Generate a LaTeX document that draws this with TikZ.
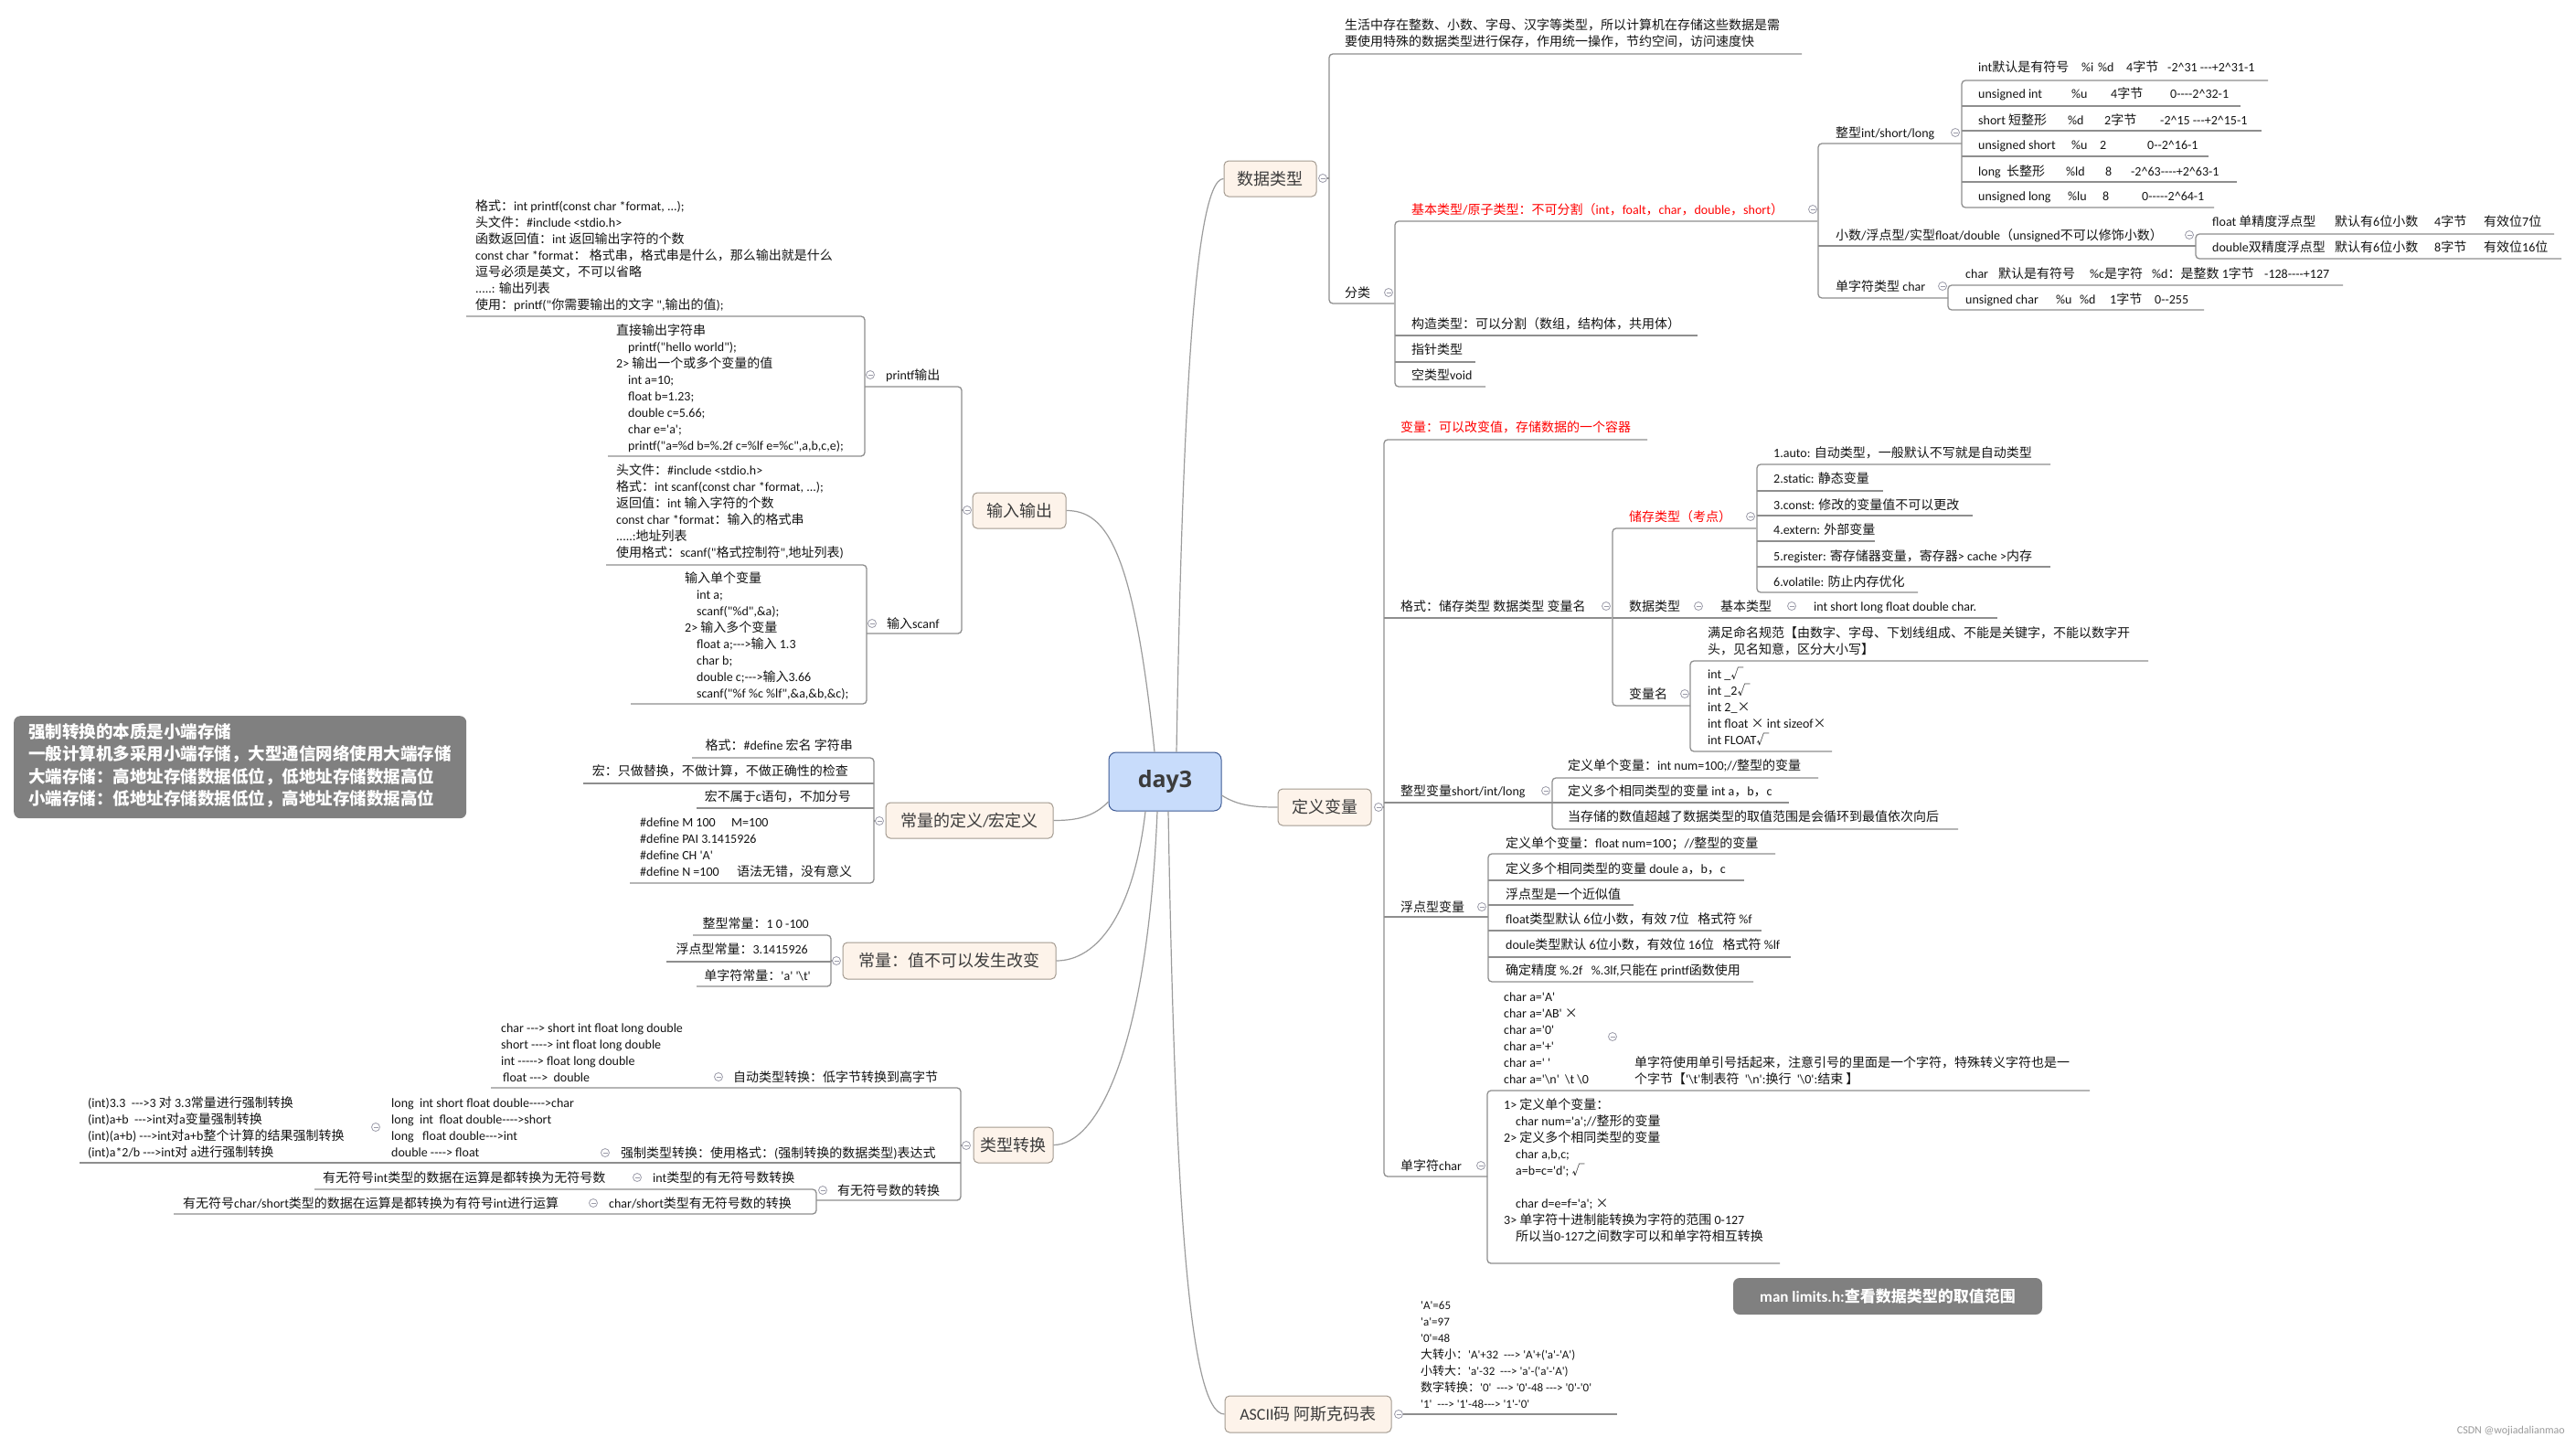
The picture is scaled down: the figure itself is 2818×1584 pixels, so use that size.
\documentclass[tikz,border=0pt]{standalone}
\usepackage{fontspec}
\setmainfont{Carlito}[Ligatures=TeXOff]
\newfontfamily\latf{Carlito}[Ligatures=TeXOff]
\newfontfamily\cjkf{Noto Sans CJK SC}
\newfontfamily\dayf{Open Sans}
\XeTeXinterchartokenstate=1
\newXeTeXintercharclass\cjkcls
\newcount\cjkc
\def\setcjkrange#1#2{\cjkc=#1\relax\loop\XeTeXcharclass\cjkc=\cjkcls\relax\ifnum\cjkc<#2\relax\advance\cjkc by 1\relax\repeat}
\setcjkrange{"4E00}{"9FFF}
\setcjkrange{"3000}{"303F}
\setcjkrange{"FF00}{"FFEF}
\XeTeXcharclass"221A=\cjkcls
\XeTeXcharclass"00D7=\cjkcls
\XeTeXinterchartoks 0 \cjkcls = {\cjkf}
\XeTeXinterchartoks 4095 \cjkcls = {\cjkf}
\XeTeXinterchartoks \cjkcls 0 = {\latf}
\XeTeXinterchartoks \cjkcls 4095 = {\latf}
\definecolor{lncol}{HTML}{8E8E8E}
\definecolor{cncol}{HTML}{9C9C9C}
\definecolor{txcol}{HTML}{141414}
\definecolor{tpbd}{HTML}{A39A90}
\definecolor{tpfill}{HTML}{FDF3EA}
\definecolor{tptx}{HTML}{3C3C3C}
\definecolor{dayfill}{HTML}{C8DCFB}
\definecolor{daybd}{HTML}{3D5A94}
\definecolor{notecol}{HTML}{808080}
\definecolor{redt}{HTML}{FF0000}
\definecolor{cmcol}{HTML}{9A9AA8}
\definecolor{wmcol}{HTML}{9A9A9A}
\newcommand\ml[1]{\begin{tabular}[t]{@{}l@{}}#1\end{tabular}}
\newcommand\cb[2]{\makebox[#1pt][l]{#2}}
\newcommand\brk[5]{\draw[ln,rounded corners=4pt] (#3,#2) -- (#1,#2) -- (#1,#4) -- (#5,#4);}
\newcommand\uln[3]{\draw[ln] (#2,#1) -- (#3,#1);}
\newcommand\cmi[2]{\draw[cl,fill=white] (#1,#2) circle[radius=4.5pt]; \draw[cl] (#1-2.5,#2) -- (#1+2.5,#2);}
\newcommand\ind{\hspace{13pt}}
\tikzset{
 ln/.style={draw=lncol, line width=1.3pt},
 cn/.style={draw=cncol, line width=1.2pt},
 cl/.style={draw=cmcol, line width=0.8pt},
 tx/.style={inner sep=0pt, anchor=base west, font=\fontsize{14}{18}\selectfont, text=txcol},
 txe/.style={tx, anchor=base east},
 rd/.style={tx, text=redt},
 topic/.style={draw=tpbd, fill=tpfill, rounded corners=5pt, line width=1pt, font=\fontsize{18}{22}\selectfont, text=tptx, inner sep=0pt, minimum height=39pt},
 note/.style={fill=notecol, rounded corners=7pt, text=white, inner sep=0pt},
}
\begin{document}
\begin{tikzpicture}[x=1pt,y=-1pt]
\useasboundingbox (0,0) rectangle (2818,1584);
\fill[white] (0,0) rectangle (2818,1584);

% ===== center and topics =====
\node[draw=daybd, fill=dayfill, rounded corners=8pt, line width=1pt, minimum width=123pt, minimum height=64pt, inner sep=0pt, font=\dayf\bfseries\fontsize{25}{28}\selectfont, text=tptx] (day3) at (1274.5,855) {day3};
\node[topic, minimum width=101pt] (sjlx) at (1389.5,195.5) {数据类型};
\node[topic, minimum width=102pt] (srsc) at (1115,558.5) {输入输出};
\node[topic, minimum width=183pt] (cdy) at (1060.5,897.5) {常量的定义/宏定义};
\node[topic, minimum width=233pt, minimum height=40pt] (clz) at (1038.5,1051) {常量：值不可以发生改变};
\node[topic, minimum width=87pt] (lxzh) at (1108.5,1252.5) {类型转换};
\node[topic, minimum width=102pt, minimum height=40pt] (dybl) at (1449,883) {定义变量};
\node[topic, minimum width=182pt, minimum height=40pt] (ascii) at (1431,1547) {ASCII码 阿斯克码表};

\draw[cn] ([xshift=12.5pt]day3.north) .. controls (1293,480) and (1305,195.5) .. (sjlx.west);
\draw[cn] ([xshift=-11.5pt]day3.north) .. controls (1240,600) and (1210,558.5) .. (srsc.east);
\draw[cn] ([yshift=-22pt]day3.west) .. controls (1195,895) and (1175,897.5) .. (cdy.east);
\draw[cn] ([xshift=-21.5pt]day3.south) .. controls (1240,1000) and (1200,1051) .. (clz.east);
\draw[cn] ([xshift=-8.5pt]day3.south) .. controls (1255,1150) and (1200,1252.5) .. (lxzh.east);
\draw[cn] ([xshift=3.5pt]day3.south) .. controls (1285,1300) and (1300,1547) .. (ascii.west);
\draw[cn] ([yshift=-15pt]day3.east) .. controls (1355,882) and (1375,883) .. (dybl.west);

% ===== 数据类型 branch =====
\draw[ln] (1451,195) -- (1454,195);
\brk{1454}{59}{1971}{332}{1525}
\brk{1526}{242}{1988}{423}{1625}
\uln{367}{1526}{1857}
\uln{396}{1526}{1614}
\brk{1989}{157}{2146}{326}{2131}
\uln{269}{1989}{2402}
\brk{2146}{88}{2481}{227}{2422}
\uln{116}{2146}{2451}
\uln{143}{2146}{2474}
\uln{171}{2146}{2416}
\uln{199}{2146}{2447}
\brk{2402}{256}{2794}{283}{2802}
\brk{2131}{312}{2563}{339}{2411}

\node[tx] (d1) at (1471,33) {\ml{生活中存在整数、小数、字母、汉字等类型，所以计算机在存储这些数据是需\\要使用特殊的数据类型进行保存，作用统一操作，节约空间，访问速度快}};
\node[tx] (d2) at (1471,325) {分类};
\node[rd] (d3) at (1544,234) {基本类型/原子类型：不可分割（int，foalt，char，double，short）};
\node[tx] (d4) at (1544,359) {构造类型：可以分割（数组，结构体，共用体）};
\node[tx] (d5) at (1544,387) {指针类型};
\node[tx] (d6) at (1544,415) {空类型void};
\node[tx] (d7) at (2008,150) {整型int/short/long};
\node[tx] (d8) at (2164,79) {\cb{113}{int默认是有符号}\cb{18}{\%i}\cb{31}{\%d}\cb{45}{4字节}-2\textasciicircum 31 ---+2\textasciicircum 31-1};
\node[tx] (d9) at (2164,108) {\cb{102}{unsigned int}\cb{43}{\%u}\cb{65}{4字节}0----2\textasciicircum 32-1};
\node[tx] (d10) at (2164,136) {\cb{98}{short 短整形}\cb{40}{\%d}\cb{61}{2字节}-2\textasciicircum 15 ---+2\textasciicircum 15-1};
\node[tx] (d11) at (2164,164) {\cb{102}{unsigned short}\cb{31}{\%u}\cb{52}{2}0--2\textasciicircum 16-1};
\node[tx] (d12) at (2164,192) {\cb{96}{long\ \ 长整形}\cb{43}{\%ld}\cb{28}{8}-2\textasciicircum 63----+2\textasciicircum 63-1};
\node[tx] (d13) at (2164,219) {\cb{98}{unsigned long}\cb{38}{\%lu}\cb{43}{8}0-----2\textasciicircum 64-1};
\node[tx] (d14) at (2008,262) {小数/浮点型/实型float/double（unsigned不可以修饰小数）};
\node[tx] (d15) at (2420,247) {\cb{134}{float 单精度浮点型}\cb{109}{默认有6位小数}\cb{54}{4字节}有效位7位};
\node[tx] (d16) at (2420,275) {\cb{134}{double双精度浮点型}\cb{109}{默认有6位小数}\cb{54}{8字节}有效位16位};
\node[tx] (d17) at (2008,318) {单字符类型 char};
\node[tx] (d18) at (2150,304) {\cb{36}{char}\cb{100}{默认是有符号}\cb{68}{\%c是字符}\cb{123}{\%d：是整数 1字节}-128----+127};
\node[tx] (d19) at (2150,332) {\cb{99}{unsigned char}\cb{26}{\%u}\cb{33}{\%d}\cb{49}{1字节}0--255};
\cmi{1447}{195}
\cmi{1519}{320}
\cmi{1983}{229}
\cmi{2139}{145}
\cmi{2395}{257}
\cmi{2125}{313}

% ===== 定义变量 branch =====
\draw[ln] (1512.5,883) -- (1514,883);
\brk{1514}{481}{1802}{1287}{1627}
\uln{676}{1514}{1763}
\uln{878}{1514}{1698}
\uln{1003}{1514}{1628}
\brk{1764}{578}{1921}{772}{1849}
\uln{676}{1764}{2185}
\brk{1922}{508}{2243}{648}{2098}
\uln{537}{1922}{2060}
\uln{564}{1922}{2158}
\uln{592}{1922}{2051}
\uln{620}{1922}{2243}
\brk{1849}{723}{2350}{822}{2004}
\brk{1698}{851}{1989}{907}{2142}
\uln{878}{1698}{1957}
\brk{1628}{934}{1942}{1074}{1918}
\uln{963}{1628}{1908}
\uln{990}{1628}{1787}
\uln{1018}{1628}{1927}
\uln{1047}{1628}{1959}
\brk{1627}{1193}{2286}{1382}{1947}

\node[rd] (v1) at (1532,472) {变量：可以改变值，存储数据的一个容器};
\node[tx] (v2) at (1532,668) {格式：储存类型 数据类型 变量名};
\node[rd] (v3) at (1782,570) {储存类型（考点）};
\node[tx] (v4) at (1940,500) {1.auto: 自动类型，一般默认不写就是自动类型};
\node[tx] (v5) at (1940,528) {2.static: 静态变量};
\node[tx] (v6) at (1940,557) {3.const: 修改的变量值不可以更改};
\node[tx] (v7) at (1940,584) {4.extern: 外部变量};
\node[tx] (v8) at (1940,613) {5.register: 寄存储器变量，寄存器> cache >内存};
\node[tx] (v9) at (1940,641) {6.volatile: 防止内存优化};
\node[tx] (v10) at (1782,668) {数据类型};
\node[tx] (v11) at (1882,668) {基本类型};
\node[tx] (v12) at (1984,668) {int short long float double char.};
\node[tx] (v13) at (1782,764) {变量名};
\node[tx] (v14) at (1868,697) {\ml{满足命名规范【由数字、字母、下划线组成、不能是关键字，不能以数字开\\头，见名知意，区分大小写】}};
\node[tx] (v15) at (1868,742) {\ml{int \_√\\int \_2√\\int 2\_×\\int float × int sizeof×\\int FLOAT√}};
\node[tx] (v16) at (1532,870) {整型变量short/int/long};
\node[tx] (v17) at (1715,842) {定义单个变量：int num=100;//整型的变量};
\node[tx] (v18) at (1715,870) {定义多个相同类型的变量 int a，b，c};
\node[tx] (v19) at (1715,898) {当存储的数值超越了数据类型的取值范围是会循环到最值依次向后};
\node[tx] (v20) at (1532,997) {浮点型变量};
\node[tx] (v21) at (1647,927) {定义单个变量：float num=100；//整型的变量};
\node[tx] (v22) at (1647,955) {定义多个相同类型的变量 doule a，b，c};
\node[tx] (v23) at (1647,983) {浮点型是一个近似值};
\node[tx] (v24) at (1647,1010) {float类型默认 6位小数，有效 7位\ \ \ 格式符 \%f};
\node[tx] (v25) at (1647,1038) {doule类型默认 6位小数，有效位 16位\ \ \ 格式符 \%lf};
\node[tx] (v26) at (1647,1066) {确定精度 \%.2f\ \ \ \%.3lf,只能在 printf函数使用};
\node[tx] (v27) at (1532,1280) {单字符char};
\node[tx] (v28) at (1645,1095) {\ml{char a='A'\\char a='AB' ×\\char a='0'\\char a='+'\\char a=' '\\char a='\textbackslash n'\ \ \textbackslash t\ \textbackslash 0}};
\node[tx] (v29) at (1788,1167) {\ml{单字符使用单引号括起来，注意引号的里面是一个字符，特殊转义字符也是一\\个字节【'\textbackslash t'制表符\ \ '\textbackslash n':换行\ \ '\textbackslash 0':结束 】}};
\node[tx] (v30) at (1645,1213) {\ml{1> 定义单个变量：\\\ind char num='a';//整形的变量\\2> 定义多个相同类型的变量\\\ind char a,b,c;\\\ind a=b=c='d'; √\\\mbox{}\\\ind char d=e=f='a'; ×\\3> 单字符十进制能转换为字符的范围 0-127\\\ind 所以当0-127之间数字可以和单字符相互转换}};
\cmi{1508}{883}
\cmi{1757}{663}
\cmi{1915}{565}
\cmi{1858}{663}
\cmi{1960}{663}
\cmi{1843}{759}
\cmi{1691}{865}
\cmi{1621}{992}
\cmi{1620}{1275}
\cmi{1764}{1134}

% ===== ASCII =====
\uln{1547}{1535}{1769}
\node[tx, font=\fontsize{13}{18}\selectfont] (a1) at (1554,1432) {\ml{'A'=65\\'a'=97\\'0'=48\\大转小：'A'+32\ \ ---> 'A'+('a'-'A')\\小转大：'a'-32\ \ ---> 'a'-('a'-'A')\\数字转换：'0'\ \ ---> '0'-48 ---> '0'-'0'\\'1'\ \ ---> '1'-48---> '1'-'0'}};
\cmi{1530}{1547}
\node[note, minimum width=338pt, minimum height=40pt, font=\bfseries\fontsize{17}{20}\selectfont] (mannote) at (2065,1418) {man limits.h:查看数据类型的取值范围};

% ===== 输入输出 branch =====
\draw[ln] (1053.5,558) -- (1052,558);
\brk{1052}{423}{946}{693}{948}
\brk{946}{346}{510}{499}{665}
\brk{948}{618}{663}{770}{690}
\node[tx] (p1) at (969,415) {printf输出};
\node[tx] (p2) at (970,687) {输入scanf};
\node[tx] (p3) at (520,230) {\ml{格式：int printf(const char *format, ...);\\头文件：\#include <stdio.h>\\函数返回值：int 返回输出字符的个数\\const char *format： 格式串，格式串是什么，那么输出就是什么\\逗号必须是英文，不可以省略\\.....: 输出列表\\使用：printf("你需要输出的文字 ",输出的值);}};
\node[tx] (p4) at (674,366) {\ml{直接输出字符串\\\ind printf("hello world");\\2> 输出一个或多个变量的值\\\ind int a=10;\\\ind float b=1.23;\\\ind double c=5.66;\\\ind char e='a';\\\ind printf("a=\%d b=\%.2f c=\%lf e=\%c",a,b,c,e);}};
\node[tx] (p5) at (674,519) {\ml{头文件：\#include <stdio.h>\\格式：int scanf(const char *format, ...);\\返回值：int 输入字符的个数\\const char *format：输入的格式串\\.....:地址列表\\使用格式：scanf("格式控制符",地址列表)}};
\node[tx] (p6) at (749,637) {\ml{输入单个变量\\\ind int a;\\\ind scanf("\%d",\&a);\\2> 输入多个变量\\\ind float a;--->输入 1.3\\\ind char b;\\\ind double c;--->输入3.66\\\ind scanf("\%f \%c \%lf",\&a,\&b,\&c);}};
\cmi{1058}{558}
\cmi{952}{410}
\cmi{954}{682}

% ===== note =====
\node[note, anchor=north west, minimum width=495pt, minimum height=112pt, font=\bfseries\fontsize{18.5}{24.4}\selectfont] (bignote) at (15,783) {\ml{强制转换的本质是小端存储\\一般计算机多采用小端存储，大型通信网络使用大端存储\\大端存储：高地址存储数据低位，低地址存储数据高位\\小端存储：低地址存储数据低位，高地址存储数据高位}};

% ===== 常量的定义/宏定义 =====
\draw[ln] (957.5,898) -- (956,898);
\brk{956}{829}{757}{966}{689}
\uln{857}{956}{638}
\uln{884}{956}{762}
\node[txe] (m1) at (933,820) {格式：\#define 宏名 字符串};
\node[txe] (m2) at (928,848) {宏：只做替换，不做计算，不做正确性的检查};
\node[txe] (m3) at (931,876) {宏不属于c语句，不加分号};
\node[tx] (m4) at (700,904) {\ml{\cb{100}{\#define M 100}M=100\\\#define PAI 3.1415926\\\#define CH 'A'\\\cb{106}{\#define N =100}语法无错，没有意义}};
\cmi{962}{898}

% ===== 常量：值不可以发生改变 =====
\draw[ln] (910.5,1051) -- (909,1051);
\brk{909}{1023}{758}{1079}{762}
\uln{1052}{909}{729}
\node[txe] (c1) at (885,1015) {整型常量：1 0 -100};
\node[txe] (c2) at (884,1043) {浮点型常量：3.1415926};
\node[txe] (c3) at (887,1072) {单字符常量：'a' '\textbackslash t'};
\cmi{915}{1051}

% ===== 类型转换 =====
\draw[ln] (1052.5,1253) -- (1051,1253);
\brk{1051}{1190}{537}{1313}{893}
\uln{1272}{1051}{87}
\brk{893}{1301}{344}{1328}{190}
\node[tx] (k1) at (548,1129) {\ml{char ---> short int float long double\\short ----> int float long double\\int -----> float long double\\\hspace{2pt}float ---> \ double}};
\node[tx] (k2) at (802,1183) {自动类型转换：低字节转换到高字节};
\node[tx] (k3) at (679,1266) {强制类型转换：使用格式：(强制转换的数据类型)表达式};
\node[tx] (k4) at (428,1211) {\ml{long\ \ int short float double---->char\\long\ \ int\ \ float double---->short\\long\ \ \ float double--->int\\double ----> float}};
\node[tx] (k5) at (96,1211) {\ml{(int)3.3\ \ --->3 对 3.3常量进行强制转换\\(int)a+b\ \ --->int对a变量强制转换\\(int)(a+b) --->int对a+b整个计算的结果强制转换\\(int)a*2/b --->int对 a进行强制转换}};
\node[tx] (k6) at (916,1307) {有无符号数的转换};
\node[tx] (k7) at (714,1293) {int类型的有无符号数转换};
\node[tx] (k8) at (353,1293) {有无符号int类型的数据在运算是都转换为无符号数};
\node[tx] (k9) at (666,1321) {char/short类型有无符号数的转换};
\node[tx] (k10) at (200,1321) {有无符号char/short类型的数据在运算是都转换为有符号int进行运算};
\cmi{1057}{1253}
\cmi{786}{1178}
\cmi{662}{1261}
\cmi{411}{1233}
\cmi{900}{1302}
\cmi{697}{1288}
\cmi{649}{1316}

% ===== watermark =====
\node[inner sep=0pt, anchor=base east, font=\fontsize{12}{14}\selectfont, text=wmcol] (wm) at (2806,1568) {CSDN @wojiadalianmao};
\end{tikzpicture}
\end{document}
